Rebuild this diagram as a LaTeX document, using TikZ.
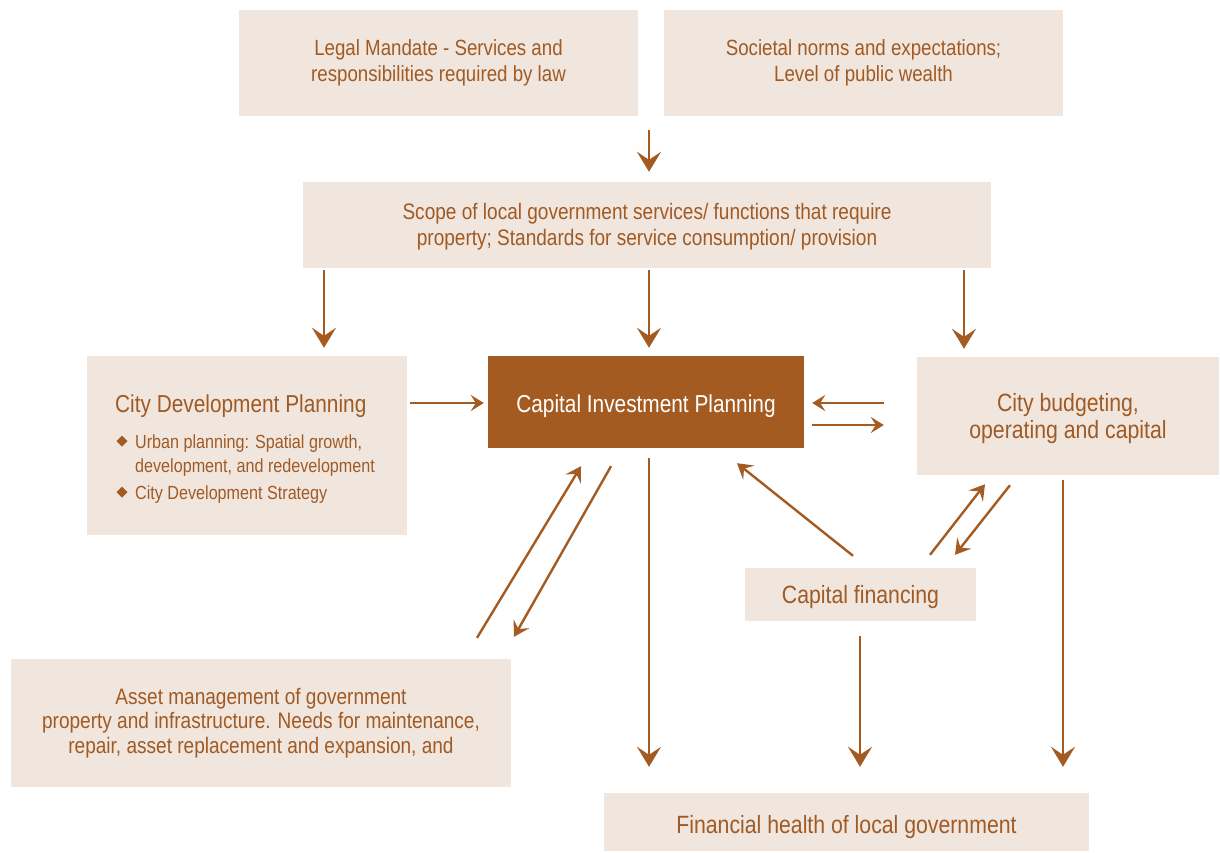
\documentclass[tikz,border=0pt]{standalone}
\usepackage{fontspec}
\setmainfont{Liberation Sans}[FakeStretch=0.85]
\usetikzlibrary{arrows.meta}
\definecolor{boxfill}{HTML}{F1E6DE}
\definecolor{brn}{HTML}{A35B22}
\definecolor{txt}{HTML}{A05A24}
\tikzset{
  box/.style={fill=boxfill, draw=none, inner sep=0pt, text=txt, align=center},
  body/.style={font=\fontsize{22}{25.5}\selectfont},
  big/.style={font=\fontsize{25}{27}\selectfont},
  bigarrow/.style={draw=brn, line width=2.8pt, -{Stealth[length=20pt,width=24pt,inset=8pt]}},
  smallarrow/.style={draw=brn, line width=2.4pt, -{Stealth[length=13pt,width=16pt,inset=5pt]}},
  midarrow/.style={draw=brn, line width=2.4pt, -{Stealth[length=15pt,width=18pt,inset=6pt]}},
  plain/.style={inner sep=0pt, text=txt, align=center},
}
\begin{document}
\begin{tikzpicture}[x=1pt,y=-1pt]
\useasboundingbox (0,0) rectangle (1220,852);
% boxes
\node[box, body, minimum width=399pt, minimum height=106pt] (legal) at (438.5,63)
  {Legal Mandate - Services and\\responsibilities required by law};
\node[box, body, minimum width=399pt, minimum height=106pt] (soc) at (863.5,63)
  {Societal norms and expectations;\\Level of public wealth};
\node[box, minimum width=688pt, minimum height=86pt] (scope) at (647,225) {};
\node[plain, font=\fontsize{22.4}{25.5}\selectfont] (scopet) at ([yshift=-1.5pt]scope.center)
  {Scope of local government services/ functions that require\\property; Standards for service consumption/ provision};
\node[box, minimum width=320pt, minimum height=179pt] (cdp) at (247,445.5) {};
\node[box, fill=brn, text=white, font=\fontsize{24.5}{27}\selectfont, text height=20pt, text depth=0pt, minimum width=316pt, minimum height=92pt] (cip) at (646,402)
  {Capital Investment Planning};
\node[box, minimum width=302pt, minimum height=118pt] (bud) at (1068,416) {};
\node[plain, big] (budt) at ([yshift=-3pt]bud.center) {City budgeting,\\operating and capital};
\node[box, big, text height=17pt, text depth=0pt, minimum width=231pt, minimum height=53pt] (capfin) at (860.5,594.5)
  {Capital financing};
\node[box, minimum width=500pt, minimum height=128pt] (asset) at (261,723) {};
\node[plain, font=\fontsize{22.4}{24.5}\selectfont] (assett) at (asset.center)
  {Asset management of government\\property and infrastructure. Needs for maintenance,\\repair, asset replacement and expansion, and};
\node[box, big, text height=22pt, text depth=0pt, minimum width=485pt, minimum height=58pt] (fin) at (846.5,822)
  {Financial health of local government};
% city development planning content
\node[anchor=base west, inner sep=0pt, text=txt, font=\fontsize{24.5}{27}\selectfont] (cdpt) at (115,412) {City Development Planning};
\node[anchor=base west, inner sep=0pt, text=txt, font=\fontsize{19}{24}\selectfont] (b1a) at (135,448) {Urban planning: Spatial growth,};
\node[anchor=base west, inner sep=0pt, text=txt, font=\fontsize{19}{24}\selectfont] (b1b) at (135,472) {development, and redevelopment};
\node[anchor=base west, inner sep=0pt, text=txt, font=\fontsize{19}{24}\selectfont] (b2) at (135,499) {City Development Strategy};
\fill[brn] (122,435.5) -- (127.5,441) -- (122,446.5) -- (116.5,441) -- cycle;
\fill[brn] (122,486.5) -- (127.5,492) -- (122,497.5) -- (116.5,492) -- cycle;
% arrows
\draw[bigarrow] ([shift={(210.5,14)}]legal.south) -- ([shift={(2,-10)}]scope.north);
\draw[bigarrow] ([shift={(-323,2)}]scope.south) -- ([shift={(77,-8)}]cdp.north);
\draw[bigarrow] ([shift={(2,2)}]scope.south) -- ([shift={(3,-8)}]cip.north);
\draw[bigarrow] ([shift={(317,2)}]scope.south) -- ([shift={(-104,-8)}]bud.north);
\draw[smallarrow] ([shift={(3,-42.5)}]cdp.east) -- ([shift={(-4,1)}]cip.west);
\draw[smallarrow] ([shift={(-33,-13)}]bud.west) -- ([shift={(8,1)}]cip.east);
\draw[smallarrow] ([shift={(8,23)}]cip.east) -- ([shift={(-33,9)}]bud.west);
\draw[midarrow] ([shift={(216,-21)}]asset.north) -- ([shift={(-65,18)}]cip.south);
\draw[midarrow] ([shift={(-35,18)}]cip.south) -- ([shift={(253,-22)}]asset.north);
\draw[bigarrow] ([shift={(3,10)}]cip.south) -- ([shift={(-197.5,-26)}]fin.north);
\draw[midarrow] ([shift={(-7.5,-12)}]capfin.north) -- ([shift={(91,15)}]cip.south);
\draw[midarrow] ([shift={(69.5,-13)}]capfin.north) -- ([shift={(-83,9)}]bud.south);
\draw[midarrow] ([shift={(-58,10)}]bud.south) -- ([shift={(94.5,-13)}]capfin.north);
\draw[bigarrow] ([shift={(-0.5,15)}]capfin.south) -- ([shift={(13.5,-26)}]fin.north);
\draw[bigarrow] ([shift={(-5,5)}]bud.south) -- ([shift={(216.5,-26)}]fin.north);
\end{tikzpicture}
\end{document}
